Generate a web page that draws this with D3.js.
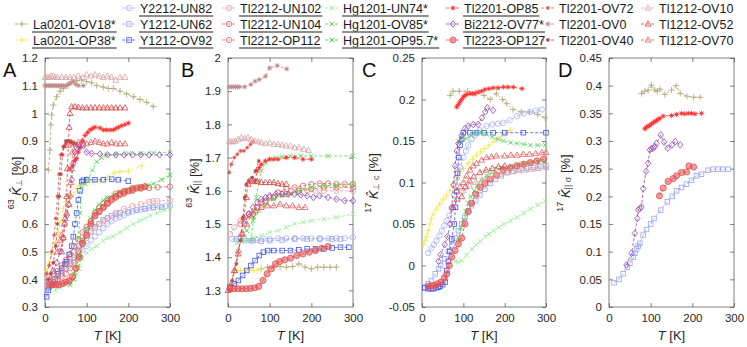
<!DOCTYPE html>
<html><head><meta charset="utf-8">
<script src="https://cdn.jsdelivr.net/npm/d3@7"></script>
<style>
body{margin:0;background:#fff}
svg{display:block}
text{font-family:"Liberation Sans",Arial,Helvetica,sans-serif}
</style>
</head><body>
<svg id="c" width="747" height="347"></svg>
<script>
// ---------------- DATA ----------------
const seriesNames = ["La0201-OV18*","La0201-OP38*","Y2212-UN82","Y1212-UN62","Y1212-OV92",
  "Tl2212-UN102","Tl2212-UN104","Tl2212-OP112","Hg1201-UN74*","Hg1201-OV85*","Hg1201-OP95.7*",
  "Tl2201-OP85","Bi2212-OV77*","Tl2223-OP127","Tl2201-OV72","Tl2201-OV0","Tl2201-OV40",
  "Tl1212-OV10","Tl1212-OV52","Tl1212-OV70"];
const seriesColors = ["#a9a56c","#f3e548","#a7b0f3","#99a4ef","#3f55ea",
  "#e2a0a0","#d85c5c","#e26868","#8eee8e","#52d552","#35dc35",
  "#ff3535","#9446b2","#e25252","#e05a5a","#c28b8b","#b84848",
  "#d9a3a3","#d24545","#e25d5d"];
const seriesMarkers = ["plus","plus","circle","square","square",
  "circle","circle","circle","x","x","x",
  "star","diamond","bigdot","dot","star","dot",
  "triangle","triangle","triangle"];
const underlined = [1,1,1,1,1, 1,1,1,1,1,1, 1,1,1,0,0,0, 0,0,0];
const legendCol = [0,0,1,1,1,2,2,2,3,3,3,4,4,4,5,5,5,6,6,6];
const legendRow = [1,2,0,1,2,0,1,2,0,1,2,0,1,2,0,1,2,0,1,2];

const xTicks = [0,100,200,300];
const yTicksA = [0.3,0.4,0.5,0.6,0.7,0.8,0.9,1,1.1,1.2];
const yTicksB = [1.3,1.4,1.5,1.6,1.7,1.8,1.9,2];
const yTicksC = [-0.05,0,0.05,0.1,0.15,0.2,0.25];
const yTicksD = [0,0.05,0.1,0.15,0.2,0.25,0.3,0.35,0.4,0.45];

const panelA = [
 ["La0201-OV18*",[[8,.795],[12,.867],[14,.958],[16,.994],[20,1.03],[28,1.06],[36,1.08],[44,1.09],[54,1.1],[64,1.114],[76,1.118],[88,1.12],[100,1.115],[112,1.11],[124,1.10],[140,1.095],[152,1.09],[164,1.09],[180,1.08],[196,1.07],[212,1.06],[228,1.05],[244,1.04],[260,1.025]]],
 ["La0201-OP38*",[[4,.43],[10,.46],[16,.49],[24,.53],[32,.57],[38,.61],[44,.657],[50,.68],[56,.70],[62,.70],[68,.705],[76,.73],[84,.74],[100,.75],[116,.752],[132,.755],[150,.77],[166,.785],[180,.789],[200,.79],[232,.81]]],
 ["Y2212-UN82",[[5,.38],[12,.385],[20,.39],[30,.40],[40,.42],[50,.44],[60,.455],[70,.47],[80,.49],[90,.505],[100,.52],[110,.54],[120,.555],[130,.57],[140,.585],[150,.6],[160,.61],[170,.62],[180,.625],[190,.632],[200,.64],[210,.645],[220,.65],[230,.652],[240,.655],[250,.658],[260,.66],[275,.663],[290,.665],[300,.665]]],
 ["Y1212-UN62",[[10,.37],[20,.39],[30,.41],[40,.43],[50,.455],[60,.48],[70,.5],[80,.52],[90,.54],[100,.56],[110,.575],[120,.59],[130,.6],[140,.615],[150,.622],[160,.63],[170,.635],[180,.64],[200,.645],[220,.65],[240,.655],[260,.66],[280,.66]]],
 ["Y1212-OV92",[[4,.337],[8,.36],[16,.38],[24,.4],[32,.42],[40,.44],[48,.455],[52,.464],[58,.49],[64,.52],[68,.554],[72,.6],[76,.64],[80,.687],[84,.72],[88,.753],[92,.758],[100,.76],[120,.76],[140,.76],[160,.762],[176,.76],[200,.755]]],
 ["Tl2212-UN102",[[10,.4],[20,.4],[30,.41],[40,.42],[50,.44],[60,.46],[70,.48],[80,.505],[90,.53],[100,.55],[110,.57],[120,.585],[130,.6],[140,.61],[150,.62],[170,.64],[190,.655],[210,.665],[230,.672],[250,.68],[260,.683],[270,.683],[300,.685]]],
 ["Tl2212-UN104",[[10,.41],[20,.42],[30,.43],[40,.45],[50,.47],[60,.49],[70,.52],[80,.545],[90,.57],[100,.59],[110,.61],[120,.63],[130,.645],[140,.66],[150,.675],[160,.685],[170,.695],[180,.705],[190,.71],[210,.72],[230,.728],[250,.73],[270,.733],[300,.735]]],
 ["Tl2212-OP112",[[10,.39],[20,.39],[30,.4],[40,.41],[50,.42],[60,.44],[70,.46],[80,.5],[90,.54],[100,.58],[110,.61],[120,.64],[130,.66],[140,.675],[150,.69],[170,.71],[190,.72],[210,.73]]],
 ["Hg1201-UN74*",[[24,.36],[36,.37],[48,.38],[60,.39],[68,.4],[76,.42],[82,.45],[88,.475],[100,.495],[112,.51],[124,.52],[140,.54],[152,.55],[164,.555],[180,.57],[196,.585],[212,.6],[228,.612],[240,.62],[252,.63],[270,.64],[285,.65],[300,.655]]],
 ["Hg1201-OV85*",[[70,.42],[76,.48],[80,.55],[84,.64],[88,.73],[96,.745],[104,.766],[114,.795],[124,.825],[136,.84],[148,.85],[170,.853],[200,.855],[230,.855],[260,.857],[300,.86]]],
 ["Hg1201-OP95.7*",[[60,.38],[70,.4],[80,.44],[86,.48],[92,.54],[100,.58],[110,.62],[120,.65],[130,.67],[140,.685],[150,.695],[165,.705],[180,.716],[196,.722],[212,.73],[230,.735],[245,.74],[260,.745],[280,.76],[300,.777]]],
 ["Tl2201-OP85",[[60,.8],[66,.81],[72,.83],[76,.837],[80,.86],[84,.875],[90,.9],[96,.92],[102,.93],[108,.94],[114,.945],[120,.95],[132,.947],[140,.94],[148,.94],[156,.94],[164,.94],[170,.945],[176,.95],[184,.955],[192,.96],[200,.965]]],
 ["Bi2212-OV77*",[[20,.43],[28,.46],[36,.5],[44,.55],[48,.6],[52,.63],[56,.67],[60,.7],[64,.76],[68,.82],[72,.86],[76,.875],[80,.885],[86,.885],[92,.885],[100,.86],[112,.855],[132,.853],[150,.85],[170,.85],[190,.85],[210,.85],[230,.85],[250,.85],[275,.85],[300,.85]]],
 ["Tl2223-OP127",[[10,.38],[18,.38],[26,.38],[34,.38],[42,.385],[50,.39],[58,.395],[66,.41],[74,.44],[82,.48],[90,.53],[100,.56],[110,.6],[120,.63],[130,.645],[140,.66],[150,.675],[160,.69],[170,.7],[180,.71],[190,.715],[200,.72],[210,.725],[220,.73],[230,.732],[240,.735]]],
 ["Tl2201-OV72",[[4,.42],[10,.45],[16,.5],[22,.56],[26,.62],[30,.7],[34,.78],[38,.85],[44,.88],[50,.89],[56,.9],[62,.9],[68,.895]]],
 ["Tl2201-OV0",[[0,1.1],[4,1.1],[8,1.1],[12,1.1],[16,1.1],[20,1.1],[24,1.1],[28,1.1],[32,1.1],[36,1.1],[40,1.1],[44,1.1],[50,1.1],[56,1.105],[62,1.11],[68,1.115],[74,1.105],[80,1.1],[92,1.1]]],
 ["Tl2201-OV40",[[8,.4],[14,.42],[20,.46],[26,.52],[30,.6],[34,.7],[38,.78],[42,.85],[46,.88],[50,.9],[56,.9],[62,.895],[68,.89],[74,.89]]],
 ["Tl1212-OV10",[[0,1.13],[5,1.13],[10,1.13],[15,1.135],[20,1.135],[25,1.13],[30,1.13],[40,1.13],[50,1.13],[60,1.13],[70,1.13],[80,1.135],[90,1.13],[100,1.14],[110,1.135],[120,1.14],[130,1.135],[140,1.13],[150,1.135],[160,1.13],[170,1.12],[180,1.13],[192,1.13]]],
 ["Tl1212-OV52",[[40,.5],[44,.55],[48,.62],[52,.7],[54,.8],[56,.885],[58,.95],[60,1.0],[64,1.024],[72,1.024],[80,1.022],[90,1.02],[100,1.02],[110,1.02],[120,1.02],[130,1.02],[140,1.02],[150,1.02],[160,1.02],[170,1.02],[180,1.02],[192,1.02]]],
 ["Tl1212-OV70",[[30,.5],[36,.54],[40,.56],[46,.6],[52,.64],[58,.67],[62,.75],[64,.8],[66,.86],[70,.89],[80,.895],[90,.9],[100,.89],[110,.895],[120,.9],[130,.895],[140,.89],[150,.89],[160,.895],[170,.89],[180,.89],[192,.89]]]
];

const panelB = [
 ["La0201-OV18*",[[80,1.365],[95,1.37],[110,1.37],[125,1.372],[140,1.37],[155,1.372],[170,1.38],[185,1.37],[200,1.365],[215,1.37],[230,1.37],[245,1.37],[260,1.37]]],
 ["La0201-OP38*",[[20,1.36],[30,1.36],[40,1.36],[50,1.362],[60,1.36],[70,1.36],[80,1.365]]],
 ["Y2212-UN82",[[10,1.455],[25,1.455],[40,1.455],[55,1.45],[70,1.452],[85,1.455],[100,1.455],[120,1.457],[140,1.457],[160,1.457],[180,1.457],[200,1.457],[220,1.457],[240,1.457],[260,1.457],[280,1.457],[300,1.46]]],
 ["Y1212-UN62",[[20,1.455],[40,1.45],[60,1.45],[80,1.448],[100,1.45],[130,1.452],[160,1.455],[190,1.455],[220,1.455],[250,1.455],[270,1.455]]],
 ["Y1212-OV92",[[5,1.31],[15,1.32],[25,1.33],[35,1.345],[45,1.36],[55,1.375],[65,1.39],[75,1.405],[85,1.415],[95,1.42],[110,1.42],[130,1.42],[150,1.42],[170,1.422],[190,1.425],[210,1.425],[230,1.425],[250,1.428],[270,1.43],[290,1.43]]],
 ["Tl2212-UN102",[[5,1.47],[15,1.49],[30,1.51],[50,1.53],[70,1.55],[90,1.565],[110,1.58],[130,1.59],[150,1.595],[170,1.6],[190,1.6],[210,1.6],[230,1.6],[260,1.6],[300,1.6]]],
 ["Tl2212-UN104",[[60,1.53],[80,1.565],[100,1.58],[120,1.595],[140,1.605],[160,1.61],[180,1.615],[200,1.62],[220,1.622],[240,1.622],[260,1.62],[280,1.62],[300,1.62]]],
 ["Tl2212-OP112",[[30,1.5],[50,1.53],[70,1.55],[90,1.57],[110,1.58],[140,1.59],[170,1.6],[200,1.605],[230,1.61],[260,1.61],[300,1.61]]],
 ["Hg1201-UN74*",[[20,1.44],[40,1.45],[60,1.46],[80,1.465],[100,1.475],[120,1.48],[140,1.49],[160,1.5],[180,1.505],[200,1.51],[230,1.515],[260,1.52],[300,1.53]]],
 ["Hg1201-OV85*",[[55,1.45],[62,1.52],[68,1.58],[74,1.63],[80,1.66],[90,1.685],[100,1.695],[115,1.7],[130,1.703],[150,1.705],[175,1.705],[200,1.705],[240,1.705],[300,1.705]]],
 ["Hg1201-OP95.7*",[[30,1.45],[45,1.48],[60,1.51],[75,1.54],[90,1.56],[110,1.575],[130,1.585],[150,1.59],[170,1.6],[200,1.61],[230,1.615],[260,1.617],[300,1.62]]],
 ["Tl2201-OP85",[[65,1.63],[70,1.66],[75,1.67],[80,1.68],[90,1.69],[100,1.695],[110,1.695],[120,1.695],[140,1.7],[160,1.7],[180,1.695],[200,1.695]]],
 ["Bi2212-OV77*",[[40,1.5],[50,1.53],[60,1.55],[70,1.565],[80,1.575],[90,1.58],[100,1.585],[115,1.59],[130,1.59],[145,1.59],[160,1.59],[175,1.588],[190,1.585],[205,1.58],[220,1.585],[240,1.58],[260,1.575],[280,1.57],[300,1.57]]],
 ["Tl2223-OP127",[[5,1.305],[14,1.305],[24,1.305],[34,1.305],[44,1.305],[54,1.306],[64,1.308],[74,1.312],[84,1.33],[94,1.35],[104,1.365],[114,1.38],[124,1.387],[136,1.392],[150,1.397],[165,1.405],[180,1.41],[195,1.415],[210,1.42],[225,1.427],[240,1.432]]],
 ["Tl2201-OV72",[[3,1.655],[8,1.68],[15,1.7],[22,1.71],[30,1.72],[38,1.72],[46,1.73],[54,1.74],[60,1.748]]],
 ["Tl2201-OV0",[[3,1.913],[8,1.913],[13,1.913],[18,1.913],[23,1.913],[28,1.913],[40,1.913],[55,1.92],[65,1.93],[75,1.935],[90,1.945],[100,1.97],[118,1.977],[141,1.967]]],
 ["Tl2201-OV40",[[10,1.33],[20,1.38],[30,1.45],[36,1.52],[40,1.58],[44,1.62],[50,1.63],[58,1.64],[66,1.66],[74,1.69]]],
 ["Tl1212-OV10",[[3,1.748],[8,1.748],[13,1.748],[18,1.75],[25,1.755],[32,1.76],[40,1.758],[48,1.76],[56,1.755],[64,1.75],[72,1.748],[80,1.745],[90,1.742],[100,1.745],[110,1.74],[120,1.74],[130,1.738],[140,1.735],[150,1.735],[160,1.73],[170,1.73],[182,1.725],[193,1.722]]],
 ["Tl1212-OV52",[[0,1.3],[8,1.32],[16,1.36],[24,1.41],[32,1.47],[38,1.52],[44,1.58],[48,1.62],[52,1.63],[60,1.628],[70,1.628],[80,1.625],[90,1.625],[100,1.625],[110,1.625],[120,1.622],[130,1.62],[140,1.62]]],
 ["Tl1212-OV70",[[5,1.31],[15,1.36],[25,1.42],[35,1.47],[45,1.5],[55,1.525],[65,1.54],[80,1.55],[95,1.555],[110,1.555],[125,1.56],[140,1.555],[155,1.555],[170,1.55],[185,1.55]]]
];

const panelC = [
 ["La0201-OV18*",[[68,.205],[75,.21],[90,.21],[110,.21],[130,.208],[150,.205],[165,.2],[180,.207],[195,.2],[205,.195],[220,.188],[240,.185],[260,.185],[280,.182],[298,.178]]],
 ["La0201-OP38*",[[3,.025],[7,.03],[11,.035],[15,.042],[19,.05],[23,.056],[27,.062],[35,.068],[43,.074],[51,.079],[59,.084],[67,.09],[75,.098],[84,.106],[92,.113],[100,.117],[112,.123],[122,.128],[132,.133],[142,.137],[152,.141],[162,.145],[172,.149],[182,.152],[192,.156],[202,.159],[213,.163]]],
 ["Y2212-UN82",[[15,.015],[23,.021],[29,.025],[35,.03],[42,.036],[48,.042],[54,.048],[60,.054],[66,.06],[72,.068],[78,.085],[84,.105],[92,.118],[100,.13],[106,.138],[112,.145],[120,.152],[128,.157],[140,.163],[156,.168],[170,.17],[184,.171],[197,.172],[212,.175],[230,.18],[246,.183],[262,.185],[276,.187],[290,.188]]],
 ["Y1212-UN62",[[7,-.026],[15,-.022],[23,-.018],[32,-.01],[40,-.004],[45,0],[55,.008],[64,.017],[72,.025],[80,.033],[88,.042],[96,.05],[104,.058],[112,.066],[120,.072],[130,.078],[140,.085],[152,.092],[165,.099],[178,.104],[192,.108],[206,.112],[220,.114],[236,.116],[252,.117],[270,.118],[285,.119],[300,.12]]],
 ["Y1212-OV92",[[7,-.027],[15,-.028],[22,-.028],[27,-.028],[34,-.027],[40,-.026],[44,-.025],[50,-.023],[56,-.02],[60,-.006],[64,.005],[67,.017],[72,.032],[78,.05],[81,.07],[84,.089],[86,.111],[89,.13],[92,.145],[96,.152],[100,.16],[116,.16],[132,.16],[150,.16],[172,.16],[200,.16],[245,.16],[300,.16]]],
 ["Hg1201-UN74*",[[80,.005],[88,.004],[96,.006],[108,.013],[121,.02],[131,.025],[141,.029],[152,.035],[162,.038],[173,.042],[186,.046],[198,.05],[214,.054],[230,.058],[246,.063],[262,.068],[280,.073],[298,.078]]],
 ["Hg1201-OV85*",[[88,.15],[96,.152],[108,.153],[120,.157],[132,.16],[144,.16],[156,.158],[170,.155],[184,.152],[197,.15],[214,.148],[230,.147],[246,.146],[262,.145],[280,.145],[298,.145]]],
 ["Hg1201-OP95.7*",[[88,.03],[94,.045],[100,.055],[106,.065],[112,.075],[118,.083],[126,.09],[134,.097],[144,.103],[156,.108],[170,.112],[186,.116],[200,.118],[216,.12],[232,.122],[248,.123],[264,.124],[282,.125],[298,.125]]],
 ["Tl2201-OP85",[[84,.191],[88,.194],[92,.197],[96,.2],[100,.203],[104,.205],[108,.206],[116,.207],[122,.207],[128,.207],[136,.209],[144,.21],[152,.212],[162,.213],[172,.214],[184,.214],[197,.215],[208,.215],[221,.215],[242,.213]]],
 ["Bi2212-OV77*",[[40,.005],[45,.013],[55,.025],[62,.035],[68,.05],[72,.07],[76,.097],[80,.12],[84,.138],[88,.147],[96,.157],[104,.165],[112,.168],[124,.17],[136,.17],[145,.178],[153,.185],[158,.19],[172,.187]]],
 ["Tl2223-OP127",[[15,-.025],[22,-.025],[30,-.024],[38,-.022],[46,-.02],[54,-.015],[60,-.01],[66,0],[72,.01],[80,.018],[88,.026],[96,.033],[104,.05],[112,.065],[120,.075],[130,.086],[141,.094],[152,.099],[165,.104],[180,.109],[197,.115],[214,.118],[230,.12],[246,.122],[262,.124],[278,.126],[294,.128]]],
 ["Tl1212-OV10",[[100,.09],[115,.096],[130,.1],[145,.103],[160,.106],[175,.108],[190,.11],[205,.112],[220,.113],[235,.114],[250,.115],[265,.116],[280,.117],[300,.118]]],
 ["Tl1212-OV52",[[75,.07],[85,.08],[96,.083],[105,.095],[115,.102],[125,.107],[140,.112],[155,.115],[170,.117],[185,.119],[200,.12]]],
 ["Tl1212-OV70",[[84,.09],[92,.095],[100,.1],[108,.108],[116,.115],[124,.12],[132,.123],[144,.127],[156,.13],[168,.131],[180,.132],[200,.132],[215,.133],[230,.133],[245,.134],[260,.134],[275,.135],[290,.136],[300,.136]]]
];

const panelD = [
 ["La0201-OV18*",[[78,.386],[86,.39],[94,.392],[102,.401],[110,.392],[116,.39],[122,.394],[134,.384],[150,.392],[161,.40],[171,.386],[187,.381],[203,.379],[219,.379]]],
 ["Y1212-UN62",[[12,.044],[24,.05],[34,.06],[44,.072],[50,.079],[58,.09],[62,.097],[66,.105],[70,.11],[74,.115],[82,.13],[90,.14],[100,.15],[108,.16],[124,.175],[140,.19],[152,.2],[162,.21],[174,.216],[186,.222],[198,.229],[210,.237],[222,.24],[238,.247],[250,.249],[262,.249],[274,.249],[286,.249]]],
 ["Tl2201-OP85",[[86,.322],[90,.325],[94,.327],[98,.328],[102,.331],[106,.333],[110,.335],[114,.337],[118,.339],[122,.341],[130,.345],[150,.346],[162,.348],[174,.35],[182,.349],[190,.35],[198,.35],[206,.349],[222,.35]]],
 ["Bi2212-OV77*",[[42,.076],[54,.097],[62,.133],[68,.16],[70,.175],[74,.178],[78,.181],[82,.214],[89,.245],[94,.26],[98,.284],[102,.286],[106,.287],[110,.29],[114,.296],[124,.311],[132,.298],[141,.287],[151,.293],[159,.299],[171,.293]]],
 ["Tl2223-OP127",[[121,.201],[130,.215],[142,.227],[154,.232],[162,.237],[174,.243],[186,.244],[192,.255],[203,.253]]]
];

// ---------------- DRAWING ----------------
const svg = d3.select("#c");
const FONT = '"Liberation Sans",Arial,Helvetica,sans-serif';

function drawMarker(g, type, x, y, c) {
  const m = g.append("g").attr("stroke", c).attr("fill", "none").attr("stroke-width", 0.8);
  switch (type) {
    case "plus": { const s = 3.2;
      m.append("path").attr("d", `M${x-s},${y}H${x+s}M${x},${y-s}V${y+s}`); break; }
    case "circle":
      m.append("circle").attr("cx", x).attr("cy", y).attr("r", 2.7); break;
    case "square":
      m.append("rect").attr("x", x-2.3).attr("y", y-2.3).attr("width", 4.6).attr("height", 4.6); break;
    case "x": { const s = 2.3;
      m.append("path").attr("d", `M${x-s},${y-s}L${x+s},${y+s}M${x-s},${y+s}L${x+s},${y-s}`); break; }
    case "star": { const s = 2.6, d = 1.9;
      m.append("path").attr("d", `M${x-s},${y}H${x+s}M${x},${y-s}V${y+s}M${x-d},${y-d}L${x+d},${y+d}M${x-d},${y+d}L${x+d},${y-d}`);
      m.append("circle").attr("cx", x).attr("cy", y).attr("r", 1.0).attr("fill", c); break; }
    case "diamond":
      m.append("path").attr("d", `M${x},${y-3.3}L${x+2.7},${y}L${x},${y+3.3}L${x-2.7},${y}Z`); break;
    case "triangle":
      m.append("path").attr("d", `M${x},${y-3.2}L${x+3},${y+2.1}L${x-3},${y+2.1}Z`); break;
    case "bigdot":
      m.append("circle").attr("cx", x).attr("cy", y).attr("r", 3.1).attr("fill", c).attr("fill-opacity", 0.55); break;
    case "dot": { const s = 2.1, d = 1.5;
      m.attr("stroke-width", 0.7);
      m.append("path").attr("d", `M${x-s},${y}H${x+s}M${x},${y-s}V${y+s}M${x-d},${y-d}L${x+d},${y+d}M${x-d},${y+d}L${x+d},${y-d}`);
      m.append("circle").attr("cx", x).attr("cy", y).attr("r", 1.4).attr("fill", c).attr("stroke", "none"); break; }
  }
}

const panels = [
  {letter:"A", data:panelA, xr:[45,170], yd:[0.3,1.2], ticks:yTicksA, sup:"63", sub:"⊥", lx:16, letX:3},
  {letter:"B", data:panelB, xr:[228,353], yd:[1.25,2], ticks:yTicksB, sup:"63", sub:"||", lx:194, letX:181},
  {letter:"C", data:panelC, xr:[422,546], yd:[-0.05,0.25], ticks:yTicksC, sup:"17", sub:"⊥ c", lx:373, letX:362},
  {letter:"D", data:panelD, xr:[609,734], yd:[0,0.45], ticks:yTicksD, sup:"17", sub:"|| σ", lx:565, letX:558}
];
const yTop = 58, yBot = 307;

panels.forEach((p, pi) => {
  const x = d3.scaleLinear().domain([0,300]).range(p.xr);
  const y = d3.scaleLinear().domain(p.yd).range([yBot, yTop]);
  const g = svg.append("g");
  const clipId = "clip" + pi;
  svg.append("clipPath").attr("id", clipId).append("rect")
    .attr("x", p.xr[0]).attr("y", yTop).attr("width", p.xr[1]-p.xr[0]).attr("height", yBot-yTop);

  g.append("rect").attr("x", p.xr[0]).attr("y", yTop).attr("width", p.xr[1]-p.xr[0]).attr("height", yBot-yTop)
    .attr("fill", "none").attr("stroke", "#4a4a4a").attr("stroke-width", 0.7);

  const fmt = v => String(+v.toFixed(3));
  const axB = d3.axisBottom(x).tickValues(xTicks).tickSize(-4).tickPadding(7).tickFormat(fmt);
  const axT = d3.axisTop(x).tickValues(xTicks).tickSize(-4).tickFormat("");
  const axL = d3.axisLeft(y).tickValues(p.ticks).tickSize(-4).tickPadding(7).tickFormat(fmt);
  const axR = d3.axisRight(y).tickValues(p.ticks).tickSize(-4).tickFormat("");
  const styleAx = sel => {
    sel.select(".domain").remove();
    sel.selectAll(".tick line").attr("stroke", "#4a4a4a").attr("stroke-width", 0.7);
    sel.selectAll(".tick text").attr("fill", "#262626").style("font-size", "11.5px").style("font-family", FONT);
  };
  g.append("g").attr("transform", `translate(0,${yBot})`).call(axB).call(styleAx);
  g.append("g").attr("transform", `translate(0,${yTop})`).call(axT).call(styleAx);
  g.append("g").attr("transform", `translate(${p.xr[0]},0)`).call(axL).call(styleAx);
  g.append("g").attr("transform", `translate(${p.xr[1]},0)`).call(axR).call(styleAx);

  const line = d3.line().x(d => x(d[0])).y(d => y(d[1]));
  p.data.forEach(([name, pts]) => {
    const si = seriesNames.indexOf(name);
    const col = seriesColors[si];
    g.append("path").attr("d", line(pts)).attr("fill", "none").attr("stroke", col)
      .attr("stroke-width", 0.8).attr("stroke-dasharray", "3,2").attr("clip-path", `url(#${clipId})`);
    const mg = g.append("g");
    pts.forEach(d => drawMarker(mg, seriesMarkers[si], x(d[0]), y(d[1]), col));
  });

  const xl = g.append("text").attr("x", (p.xr[0]+p.xr[1])/2).attr("y", 340).attr("text-anchor", "middle")
    .style("font-size", "13px").attr("fill", "#262626");
  xl.append("tspan").attr("font-style", "italic").text("T");
  xl.append("tspan").text(" [K]");

  const yl = g.append("text").attr("transform", `translate(${p.lx},183) rotate(-90)`)
    .attr("text-anchor", "middle").attr("dominant-baseline", "central")
    .style("font-size", "13px").attr("fill", "#262626");
  yl.append("tspan").style("font-size", "9px").attr("dy", -5).text(p.sup);
  yl.append("tspan").attr("dy", 5).attr("font-style", "italic").text("\u00A0K\u0302");
  yl.append("tspan").style("font-size", "9px").attr("dy", 3).attr("fill", "#555").text(p.sub);
  yl.append("tspan").attr("dy", -3).text(" [%]");

  g.append("text").attr("x", p.letX).attr("y", 77).style("font-size", "20px").attr("fill", "#111").text(p.letter);
});

// ---------------- LEGEND ----------------
const colX = [15, 122, 222, 325, 446, 541, 641];
const rowY = [8, 24, 40];
const lg = svg.append("g");
seriesNames.forEach((name, i) => {
  const x0 = colX[legendCol[i]], yc = rowY[legendRow[i]];
  const col = seriesColors[i];
  lg.append("path").attr("d", `M${x0},${yc}H${x0+14}`).attr("stroke", col).attr("stroke-width", 0.8)
    .attr("stroke-dasharray", "3,2");
  drawMarker(lg, seriesMarkers[i], x0+7, yc, col);
  const t = lg.append("text").attr("x", x0+18).attr("y", yc+4.5).style("font-size", "12.5px")
    .attr("fill", "#1a1a1a").text(name);
  if (underlined[i]) {
    const w = t.node().getComputedTextLength();
    lg.append("line").attr("x1", x0+17).attr("x2", x0+18+w+1).attr("y1", yc+8).attr("y2", yc+8)
      .attr("stroke", "#6a6a6a").attr("stroke-width", 1.4);
  }
});
</script>
</body></html>
